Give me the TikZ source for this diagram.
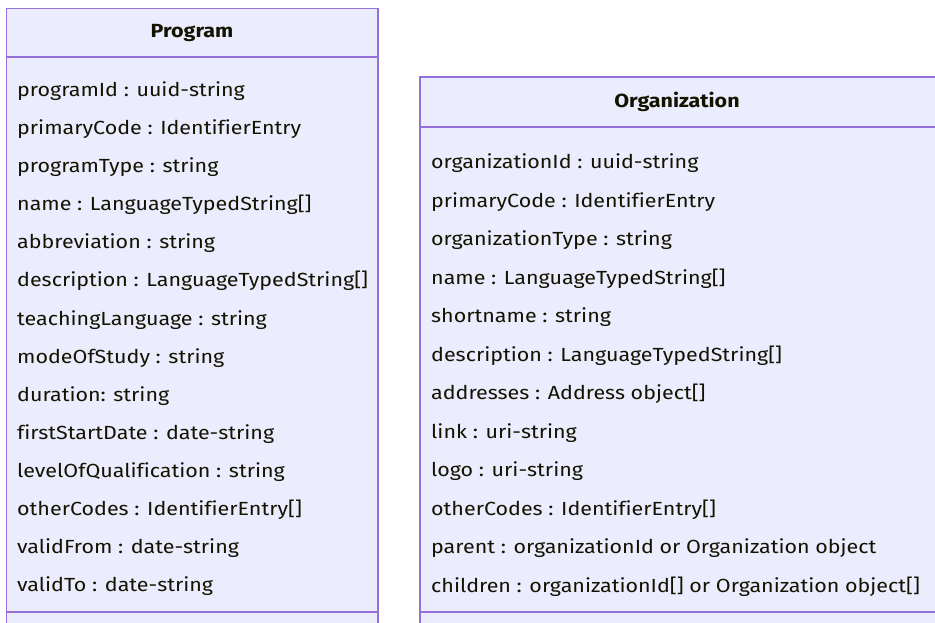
\documentclass[tikz,border=0pt]{standalone}
\usepackage{fontspec}
\setmainfont{Fira Sans}[Ligatures=NoCommon, FakeStretch=1.13]
\definecolor{boxfill}{HTML}{ECECFF}
\definecolor{boxline}{HTML}{9370DB}
\definecolor{txt}{HTML}{131300}
\tikzset{
  classbox/.style={draw=boxline, fill=boxfill, line width=1.6pt},
  sepline/.style={draw=boxline, line width=1.6pt},
  attr/.style={anchor=base west, inner sep=0pt, text=txt, font=\fontsize{19}{22}\selectfont},
  title/.style={anchor=center, inner sep=0pt, text=txt, font=\fontsize{19}{22}\selectfont\bfseries}
}
\begin{document}
\begin{tikzpicture}[x=1pt,y=-1pt]
\useasboundingbox (0,0) rectangle (935,622);
\clip (0,0) rectangle (935,622);
% Program box
\draw[classbox] (6.5,8.3) rectangle (377.7,640);
\draw[sepline] (6.5,56.8) -- (377.7,56.8);
\draw[sepline] (6.5,612) -- (377.7,612);
\node[title] (ptitle) at (192,33) {Program};
\node[attr] (p1) at (17,96.4) {programId : uuid-string};
\node[attr] (p2) at (17,134.5) {primaryCode : IdentifierEntry};
\node[attr] (p3) at (17,172.6) {programType : string};
\node[attr] (p4) at (17,210.7) {name : LanguageTypedString[]};
\node[attr] (p5) at (17,248.8) {abbreviation : string};
\node[attr] (p6) at (17,286.9) {description : LanguageTypedString[]};
\node[attr] (p7) at (17,325) {teachingLanguage : string};
\node[attr] (p8) at (17,363.1) {modeOfStudy : string};
\node[attr] (p9) at (17,401.2) {duration: string};
\node[attr] (p10) at (17,439.3) {firstStartDate : date-string};
\node[attr] (p11) at (17,477.4) {levelOfQualification : string};
\node[attr] (p12) at (17,515.5) {otherCodes : IdentifierEntry[]};
\node[attr] (p13) at (17,553.6) {validFrom : date-string};
\node[attr] (p14) at (17,591.7) {validTo : date-string};
% Organization box
\draw[classbox] (420,76.7) rectangle (936,640);
\draw[sepline] (420,126.7) -- (936,126.7);
\draw[sepline] (420,612) -- (936,612);
\node[title] (otitle) at (677,102) {Organization};
\node[attr] (o1) at (431,168.7) {organizationId : uuid-string};
\node[attr] (o2) at (431,207.2) {primaryCode : IdentifierEntry};
\node[attr] (o3) at (431,245.7) {organizationType : string};
\node[attr] (o4) at (431,284.2) {name : LanguageTypedString[]};
\node[attr] (o5) at (431,322.7) {shortname : string};
\node[attr] (o6) at (431,361.2) {description : LanguageTypedString[]};
\node[attr] (o7) at (431,399.7) {addresses : Address object[]};
\node[attr] (o8) at (431,438.2) {link : uri-string};
\node[attr] (o9) at (431,476.7) {logo : uri-string};
\node[attr] (o10) at (431,515.2) {otherCodes : IdentifierEntry[]};
\node[attr] (o11) at (431,553.7) {parent : organizationId or Organization object};
\node[attr] (o12) at (431,592.2) {children : organizationId[] or Organization object[]};
\end{tikzpicture}
\end{document}
